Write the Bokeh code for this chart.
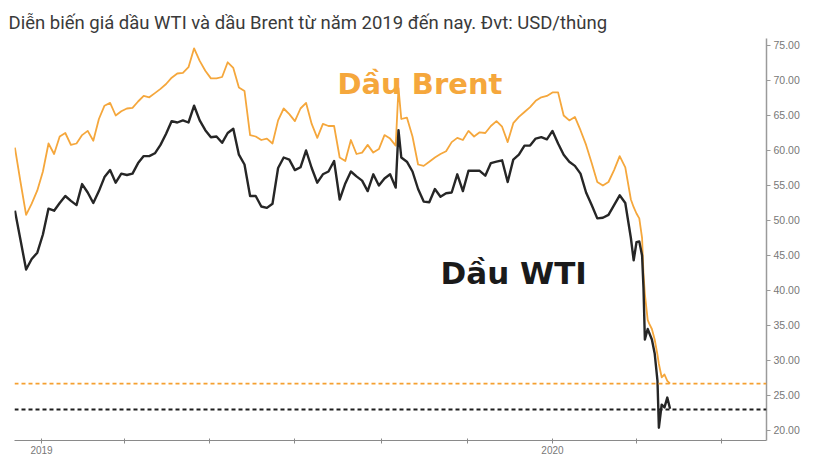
import pandas as pd
from bokeh.plotting import figure
from bokeh.models import (Range1d, FixedTicker, Span, Label,
                          NumeralTickFormatter, CustomJSTickFormatter)
from bokeh.embed import file_html
from bokeh.resources import INLINE

# ---------------- data ----------------
dates = [
    "2018-12-13", "2018-12-17", "2018-12-21", "2018-12-25", "2018-12-29",
    "2019-01-02", "2019-01-06", "2019-01-10", "2019-01-14", "2019-01-18", "2019-01-22", "2019-01-26", "2019-01-30",
    "2019-02-03", "2019-02-07", "2019-02-11", "2019-02-15", "2019-02-19", "2019-02-23", "2019-02-27",
    "2019-03-03", "2019-03-07", "2019-03-11", "2019-03-15", "2019-03-19", "2019-03-23", "2019-03-27", "2019-03-31",
    "2019-04-04", "2019-04-08", "2019-04-12", "2019-04-16", "2019-04-20", "2019-04-24", "2019-04-28",
    "2019-05-02", "2019-05-06", "2019-05-10", "2019-05-14", "2019-05-18", "2019-05-22", "2019-05-26", "2019-05-30",
    "2019-06-03", "2019-06-07", "2019-06-11", "2019-06-15", "2019-06-19", "2019-06-23", "2019-06-27",
    "2019-07-01", "2019-07-05", "2019-07-09", "2019-07-13", "2019-07-17", "2019-07-21", "2019-07-25", "2019-07-29",
    "2019-08-02", "2019-08-06", "2019-08-10", "2019-08-14", "2019-08-18", "2019-08-22", "2019-08-26", "2019-08-30",
    "2019-09-03", "2019-09-07", "2019-09-11", "2019-09-13", "2019-09-15", "2019-09-19", "2019-09-23", "2019-09-27",
    "2019-10-01", "2019-10-05", "2019-10-09", "2019-10-13", "2019-10-17", "2019-10-21", "2019-10-25", "2019-10-29",
    "2019-11-02", "2019-11-06", "2019-11-10", "2019-11-14", "2019-11-18", "2019-11-22", "2019-11-26", "2019-11-30",
    "2019-12-04", "2019-12-08", "2019-12-12", "2019-12-16", "2019-12-20", "2019-12-24", "2019-12-28",
    "2020-01-01", "2020-01-05", "2020-01-09", "2020-01-13", "2020-01-17", "2020-01-21", "2020-01-25", "2020-01-29",
    "2020-02-02", "2020-02-06", "2020-02-10", "2020-02-14", "2020-02-18", "2020-02-22", "2020-02-26", "2020-02-28",
    "2020-03-01", "2020-03-03", "2020-03-05", "2020-03-06", "2020-03-07", "2020-03-09", "2020-03-10", "2020-03-12",
    "2020-03-14", "2020-03-16", "2020-03-17", "2020-03-19", "2020-03-21", "2020-03-23", "2020-03-25",
]

brent = [
    60.4, 55.5, 50.8, 52.4, 54.3,
    57.0, 61.0, 59.5, 62.0, 62.5, 60.8, 61.0, 62.2,
    62.8, 61.4, 64.5, 66.4, 66.8, 65.0, 65.6,
    66.0, 66.1, 67.0, 67.8, 67.6, 68.2, 68.8, 69.5,
    70.4, 71.0, 71.1, 71.9, 74.6, 72.8, 71.4,
    70.3, 70.3, 70.5, 72.6, 71.8, 69.0, 68.5, 62.2,
    62.0, 61.5, 61.7, 61.0, 64.3, 66.0, 65.2,
    64.2, 66.0, 66.8, 63.8, 61.8, 63.8, 63.5, 63.5,
    59.0, 58.5, 61.5, 59.5, 59.7, 60.8, 59.7, 60.2,
    62.2, 61.7, 60.7, 68.9, 64.5, 64.7, 62.0, 58.0,
    57.8, 58.4, 59.0, 59.5, 59.9, 61.2, 61.8, 61.5,
    62.8, 62.0, 62.6, 62.5, 63.5, 64.2, 63.4, 61.2,
    63.9, 64.8, 65.5, 66.2, 67.1, 67.6, 67.8,
    68.3, 68.3, 65.0, 64.3, 64.8, 62.9, 60.8, 58.2,
    55.5, 55.0, 55.5, 57.2, 59.2, 57.6, 53.0, 51.9,
    51.0, 50.3, 47.5, 42.4, 39.5, 35.8, 35.3, 34.5,
    33.0, 30.8, 29.5, 27.6, 28.0, 27.1, 26.7,
]

wti = [
    51.4, 47.2, 43.0, 44.5, 45.4,
    48.0, 51.7, 51.4, 52.5, 53.5, 52.8, 52.2, 55.2,
    54.0, 52.5, 54.2, 56.2, 57.2, 55.4, 56.7,
    56.5, 56.7, 58.2, 59.2, 59.2, 59.6, 60.8, 62.4,
    64.2, 64.0, 64.3, 64.0, 66.4, 64.3, 62.9,
    61.9, 62.0, 61.1, 62.5, 63.1, 59.4, 58.0, 53.5,
    53.5, 52.0, 51.8, 52.4, 57.5, 59.0, 58.7,
    57.2, 57.6, 60.0, 57.5, 55.4, 56.6, 57.0, 58.5,
    53.0, 55.3, 57.0, 56.3, 55.7, 54.2, 56.6, 55.0,
    56.0, 56.6, 54.7, 62.9, 59.0, 58.4, 57.0, 54.5,
    52.7, 52.6, 54.5, 53.4, 53.9, 54.0, 56.6, 54.2,
    57.1, 57.1, 57.1, 56.4, 58.2, 58.4, 58.6, 55.5,
    58.7, 59.4, 60.7, 60.7, 61.7, 61.9, 61.6,
    62.8, 61.0, 59.4, 58.4, 57.8, 56.7, 54.0, 52.2,
    50.3, 50.4, 50.8, 52.2, 53.6, 52.5, 47.5, 44.3,
    46.9, 47.0, 45.0, 40.4, 33.0, 34.5, 34.0, 33.0,
    31.0, 27.1, 20.4, 23.7, 23.3, 24.7, 23.1,
]

brent_now = 26.7   # dashed reference level, Brent
wti_now = 23.0     # dashed reference level, WTI

y_ticks = [20, 25, 30, 35, 40, 45, 50, 55, 60, 65, 70, 75]
x_tick_dates = ["2019-01-01", "2019-03-01", "2019-05-01", "2019-07-01", "2019-09-01",
                "2019-11-01", "2020-01-01", "2020-03-01", "2020-05-01"]
x_tick_labels = ["2019", "", "", "", "", "", "2020", "", ""]

title_text = "Diễn biến giá dầu WTI và dầu Brent từ năm 2019 đến nay. Đvt: USD/thùng"
brent_name = "Dầu Brent"
wti_name = "Dầu WTI"

# ---------------- figure ----------------
x = pd.to_datetime(dates)
x_tick_ms = [int(pd.Timestamp(d).value // 10**6) for d in x_tick_dates]

BRENT_COLOR = "#F5A73C"
WTI_COLOR = "#262626"

p = figure(width=810, height=456, output_backend="svg", toolbar_location=None,
           x_axis_type="datetime", y_axis_location="right",
           x_range=Range1d(pd.Timestamp("2018-12-12 17:00"), pd.Timestamp("2020-06-01 21:00")),
           y_range=Range1d(18.571, 76.0),
           min_border_left=14, min_border_right=44, min_border_top=38, min_border_bottom=16)

p.title.text = title_text
p.title.text_font = "Roboto"
p.title.text_font_size = "18.5px"
p.title.text_font_style = "normal"
p.title.text_color = "#3a3a3a"
p.title.align = "left"
p.title.offset = -6

p.outline_line_color = None
p.xgrid.grid_line_color = None
p.ygrid.grid_line_color = None
p.background_fill_color = "white"
p.border_fill_color = "white"

# right axis
ya = p.yaxis[0]
ya.ticker = FixedTicker(ticks=y_ticks)
ya.formatter = NumeralTickFormatter(format="0.00")
ya.major_label_text_font = "Liberation Sans"
ya.major_label_text_font_size = "10.5px"
ya.major_label_text_color = "#777777"
ya.axis_line_color = "#9a9a9a"
ya.axis_line_width = 1.5
ya.major_tick_line_color = "#9a9a9a"
ya.major_tick_in = 0
ya.major_tick_out = 4
ya.minor_tick_line_color = None
ya.major_label_standoff = 3

# bottom axis
xa = p.xaxis[0]
xa.ticker = FixedTicker(ticks=x_tick_ms)
xa.formatter = CustomJSTickFormatter(args=dict(tvals=x_tick_ms, tlabels=x_tick_labels), code="""
    for (let i = 0; i < tvals.length; i++) { if (Math.abs(tvals[i] - tick) < 1) return tlabels[i]; }
    return "";
""")
xa.major_label_text_font = "Liberation Sans"
xa.major_label_text_font_size = "10px"
xa.major_label_text_color = "#777777"
xa.axis_line_color = "#8a8a8a"
xa.axis_line_width = 1.2
xa.major_tick_line_color = "#8a8a8a"
xa.major_tick_in = 2
xa.major_tick_out = 3
xa.minor_tick_line_color = None
xa.major_label_standoff = 2

# series
p.line(x, brent, line_color=BRENT_COLOR, line_width=1.8, line_join="round")
p.line(x, wti, line_color=WTI_COLOR, line_width=2.4, line_join="round")

# dashed current-level lines
p.add_layout(Span(location=brent_now, dimension="width", line_color="#F5A030",
                  line_width=1.6, line_dash="4 3"))
p.add_layout(Span(location=wti_now, dimension="width", line_color="#1e1e1e",
                  line_width=2.2, line_dash="4 3"))

# series names
p.add_layout(Label(x=pd.Timestamp("2019-07-31 10:00"), y=69.57, text=brent_name,
                   text_font="DejaVu Sans", text_font_style="bold", text_font_size="29px",
                   text_color=BRENT_COLOR, text_baseline="alphabetic"))
p.add_layout(Label(x=pd.Timestamp("2019-10-13"), y=42.43, text=wti_name,
                   text_font="DejaVu Sans", text_font_style="bold", text_font_size="31px",
                   text_color="#1a1a1a", text_baseline="alphabetic"))

open("out.html", "w").write(file_html(p, INLINE))
